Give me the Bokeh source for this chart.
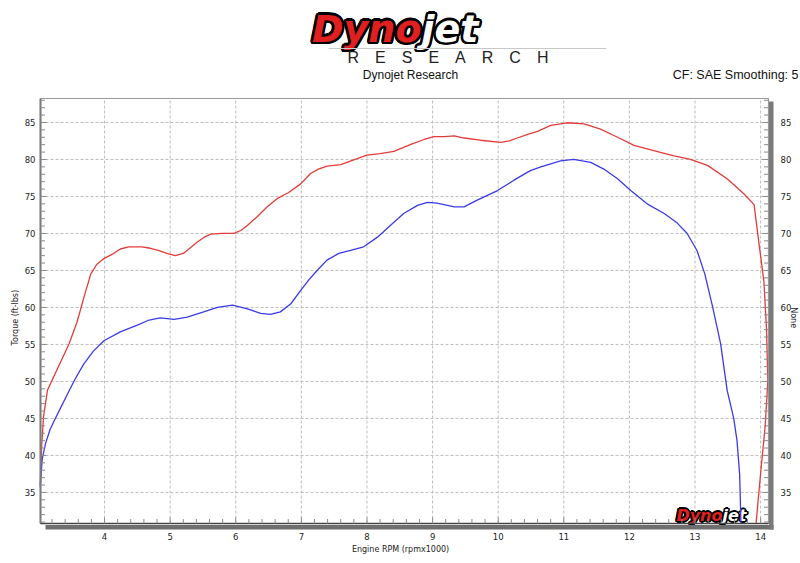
import math
import numpy as np
from bokeh.plotting import figure
from bokeh.models import Range1d
from bokeh.embed import file_html
from bokeh.resources import INLINE
from bokeh.core.properties import value

# ---------------- data ----------------
red_rpm = [3.02, 3.04, 3.07, 3.13, 3.25, 3.35, 3.46, 3.58, 3.70, 3.79, 3.88, 3.99,
           4.12, 4.24, 4.37, 4.57, 4.70, 4.82, 4.95, 5.08, 5.20, 5.30, 5.41, 5.52,
           5.62, 5.80, 5.97, 6.08, 6.18, 6.33, 6.48, 6.63, 6.80, 6.99, 7.14, 7.26,
           7.39, 7.60, 7.85, 8.00, 8.20, 8.41, 8.66, 8.87, 9.02, 9.18, 9.33, 9.48,
           9.73, 10.04, 10.17, 10.29, 10.45, 10.60, 10.80, 11.05, 11.31, 11.56, 11.82, 12.07,
           12.37, 12.68, 12.93, 13.19, 13.49, 13.74, 13.90, 13.97, 14.05, 14.09, 14.11, 14.07,
           14.00, 13.93]
red_val = [36.0, 41.0, 45.2, 48.8, 51.1, 53.0, 55.1, 58.0, 61.8, 64.5, 65.8, 66.6,
           67.2, 67.9, 68.2, 68.2, 68.0, 67.7, 67.3, 67.0, 67.3, 68.0, 68.8, 69.5,
           69.9, 70.0, 70.0, 70.4, 71.1, 72.3, 73.6, 74.7, 75.5, 76.7, 78.1, 78.7,
           79.1, 79.3, 80.1, 80.6, 80.8, 81.1, 82.0, 82.7, 83.1, 83.1, 83.2, 82.9,
           82.6, 82.3, 82.5, 82.9, 83.4, 83.8, 84.6, 84.96, 84.8, 84.1, 83.0, 81.9,
           81.2, 80.5, 80.0, 79.2, 77.4, 75.4, 73.9, 69.0, 63.5, 57.0, 50.1, 44.0,
           37.6, 30.8]

blue_rpm = [3.02, 3.05, 3.10, 3.17, 3.25, 3.34, 3.43, 3.55, 3.68, 3.83, 3.99, 4.24,
            4.50, 4.68, 4.85, 5.06, 5.26, 5.51, 5.72, 5.95, 6.18, 6.38, 6.53, 6.68,
            6.84, 6.99, 7.12, 7.24, 7.39, 7.57, 7.75, 7.95, 8.16, 8.36, 8.56, 8.77,
            8.92, 9.07, 9.33, 9.48, 9.68, 9.99, 10.24, 10.49, 10.65, 10.95, 11.15, 11.41,
            11.61, 11.82, 12.02, 12.27, 12.53, 12.73, 12.88, 13.03, 13.15, 13.27, 13.39, 13.49,
            13.59, 13.64, 13.68, 13.70]
blue_val = [35.7, 39.5, 41.6, 43.5, 45.0, 46.6, 48.2, 50.3, 52.3, 54.1, 55.5, 56.7,
            57.6, 58.3, 58.6, 58.4, 58.7, 59.4, 60.0, 60.3, 59.8, 59.2, 59.05, 59.4,
            60.5, 62.3, 63.8, 65.0, 66.4, 67.3, 67.7, 68.2, 69.5, 71.1, 72.7, 73.8,
            74.2, 74.1, 73.6, 73.6, 74.5, 75.8, 77.2, 78.5, 79.0, 79.8, 80.0, 79.6,
            78.7, 77.4, 75.8, 74.0, 72.7, 71.4, 70.0, 67.7, 64.5, 60.0, 55.1, 48.8,
            45.0, 42.0, 37.5, 30.8]

x_ticks = [4, 5, 6, 7, 8, 9, 10, 11, 12, 13, 14]
y_ticks = [35, 40, 45, 50, 55, 60, 65, 70, 75, 80, 85]
x_tick_labels = [str(v) for v in x_ticks]
y_tick_labels = [str(v) for v in y_ticks]
logo_left = "Dyno"
logo_right = "jet"
research_letters = ["R", "E", "S", "E", "A", "R", "C", "H"]
title_text = "Dynojet Research"
info_text = "CF: SAE Smoothing: 5"
x_label = "Engine RPM (rpmx1000)"
y_label = "Torque (ft-lbs)"
y2_label = "None"

RED = "#e63a3a"
BLUE = "#3b3be6"
LOGO_RED = "#e02020"
GRID = "#bdbdbd"
TICK = "#8a8a8a"
TXT = "#222222"
FONT = value("DejaVu Sans")

# ---------------- geometry: plot area (data range) inside a full-page canvas ----------------
W, H = 800, 563
FL, FR, FT, FB = 40, 768, 98, 523          # plot-area edges in page pixels
XA0, XA1 = 3.024, 14.12                    # rpm at plot-area left/right
YA0, YA1 = 30.8, 88.24                     # value at plot-area bottom/top
KX = (FR - FL) / (XA1 - XA0)
KY = (FB - FT) / (YA1 - YA0)
XR0, XR1 = XA0 - FL / KX, XA1 + (W - FR) / KX
YR0, YR1 = YA0 - (H - FB) / KY, YA1 + FT / KY


def fx(px):
    return XR0 + px / KX


def fy(py):
    return YR1 - py / KY


p = figure(width=W, height=H, x_range=Range1d(XR0, XR1), y_range=Range1d(YR0, YR1),
           output_backend="svg", toolbar_location=None, min_border=0,
           x_axis_location=None, y_axis_location=None)
p.grid.visible = False
p.outline_line_color = None
p.background_fill_color = "white"
p.border_fill_color = "white"

# grid lines (dashed) at the major ticks
p.segment(x0=x_ticks, y0=[YA0] * len(x_ticks), x1=x_ticks, y1=[YA1] * len(x_ticks),
          line_color=GRID, line_dash="3 2", line_width=1)
p.segment(x0=[XA0] * len(y_ticks), y0=y_ticks, x1=[XA1] * len(y_ticks), y1=y_ticks,
          line_color=GRID, line_dash="3 2", line_width=1)


def outlined(px, baseline_py, txt, fill, size_px, align, r, n):
    # place the word so that its baseline sits at page pixel row baseline_py
    x = fx(px)
    y = fy(baseline_py - 0.255 * size_px)
    size = f"{size_px}px"
    xo = [r * math.cos(2 * math.pi * k / n) for k in range(n)]
    yo = [r * math.sin(2 * math.pi * k / n) for k in range(n)]
    p.text(x=[x] * n, y=[y] * n, text=[txt] * n, x_offset=xo, y_offset=yo,
           text_color="black", text_font=FONT, text_font_style="bold italic",
           text_font_size=size, text_align=align, text_baseline="alphabetic")
    p.text(x=[x], y=[y], text=[txt], text_color=fill, text_font=FONT,
           text_font_style="bold italic", text_font_size=size,
           text_align=align, text_baseline="alphabetic")


# watermark logo, lower right (under the curves)
outlined(722, 519, logo_left, LOGO_RED, 16, "right", 1.6, 12)
outlined(722, 519, logo_right, "white", 16, "left", 1.6, 12)

# curves
p.line(red_rpm, red_val, line_color=RED, line_width=1.3)
p.line(blue_rpm, blue_val, line_color=BLUE, line_width=1.3)

# frame, shadow bars and axis lines
p.quad(left=[XA0], right=[XA1], bottom=[YA0], top=[YA1], fill_color=None,
       line_color="#9a9a9a", line_width=1.2)
p.quad(left=[fx(FL + 5)], right=[fx(FR + 5)], bottom=[fy(FB + 6)], top=[fy(FB + 1.5)],
       fill_color="#6e6e6e", line_color=None)
p.quad(left=[fx(FR + 0.5)], right=[fx(FR + 5)], bottom=[fy(FB + 6)], top=[fy(FT + 3)],
       fill_color="#7a7a7a", line_color=None)
p.segment(x0=[XA0], y0=[YA0], x1=[XA0], y1=[YA1], line_color="#7a7a7a", line_width=2)
p.segment(x0=[XA0], y0=[YA0], x1=[XA1], y1=[YA0], line_color="#444444", line_width=1.5)

# tick marks (inside)
x_minor = [round(v, 1) for v in np.arange(3.2, 14.01, 0.2) if abs(v - round(v)) > 1e-6]
y_minor = [v for v in range(31, 89) if v % 5 != 0]
tk = 4.5 / KY
p.segment(x0=x_minor, y0=[YA0] * len(x_minor), x1=x_minor, y1=[YA0 + tk] * len(x_minor),
          line_color=TICK, line_width=1)
p.segment(x0=x_ticks, y0=[YA0] * len(x_ticks), x1=x_ticks, y1=[YA0 + 6 / KY] * len(x_ticks),
          line_color=TICK, line_width=1)
tl = 4.5 / KX
for edge, sgn in ((XA0, 1), (XA1, -1)):
    p.segment(x0=[edge] * len(y_minor), y0=y_minor, x1=[edge + sgn * tl] * len(y_minor), y1=y_minor,
              line_color=TICK, line_width=1)
    p.segment(x0=[edge] * len(y_ticks), y0=y_ticks, x1=[edge + sgn * 6 / KX] * len(y_ticks), y1=y_ticks,
              line_color=TICK, line_width=1)

# tick labels
p.text(x=x_ticks, y=[YA0] * len(x_ticks), text=x_tick_labels, y_offset=[9] * len(x_ticks),
       text_align="center", text_baseline="top", text_font=FONT, text_font_size="8.5px",
       text_color=TXT)
p.text(x=[XA0] * len(y_ticks), y=y_ticks, text=y_tick_labels, x_offset=[-5] * len(y_ticks),
       text_align="right", text_baseline="middle", text_font=FONT, text_font_size="8.5px",
       text_color=TXT)
p.text(x=[XA1] * len(y_ticks), y=y_ticks, text=y_tick_labels, x_offset=[12] * len(y_ticks),
       text_align="left", text_baseline="middle", text_font=FONT, text_font_size="8.5px",
       text_color=TXT)

# axis titles
p.text(x=[(XA0 + XA1) / 2 - 0.06], y=[YA0], text=[x_label], y_offset=[21],
       text_align="center", text_baseline="top", text_font=FONT, text_font_size="8px",
       text_color=TXT)
p.text(x=[XA0], y=[(YA0 + YA1) / 2 - 0.9], text=[y_label], x_offset=[-25], angle=[math.pi / 2],
       text_align="center", text_baseline="middle", text_font=FONT, text_font_size="8px",
       text_color=TXT)
p.text(x=[XA1], y=[(YA0 + YA1) / 2 - 0.9], text=[y2_label], x_offset=[25], angle=[-math.pi / 2],
       text_align="center", text_baseline="middle", text_font=FONT, text_font_size="8px",
       text_color=TXT)

# ---------------- header ----------------
outlined(421, 38, logo_left, LOGO_RED, 38, "right", 2.5, 16)
outlined(421, 38, logo_right, "white", 38, "left", 2.5, 16)
p.segment(x0=[fx(328)], y0=[fy(48)], x1=[fx(606)], y1=[fy(48)], line_color="#c8c8c8", line_width=1)
p.text(x=[fx(447.5)], y=[fy(56.5)], text=["\u2003".join(research_letters)], text_color=TXT,
       text_font=value("Liberation Sans"), text_font_size="16px",
       text_align="center", text_baseline="middle")
p.text(x=[fx(410)], y=[fy(74.5)], text=[title_text], text_color="#111111",
       text_font=value("Liberation Sans"), text_font_size="12px",
       text_align="center", text_baseline="middle")
p.text(x=[fx(798)], y=[fy(74.5)], text=[info_text], text_color="#111111",
       text_font=value("Liberation Sans"), text_font_size="12.5px",
       text_align="right", text_baseline="middle")

open("out.html", "w").write(file_html(p, INLINE))
